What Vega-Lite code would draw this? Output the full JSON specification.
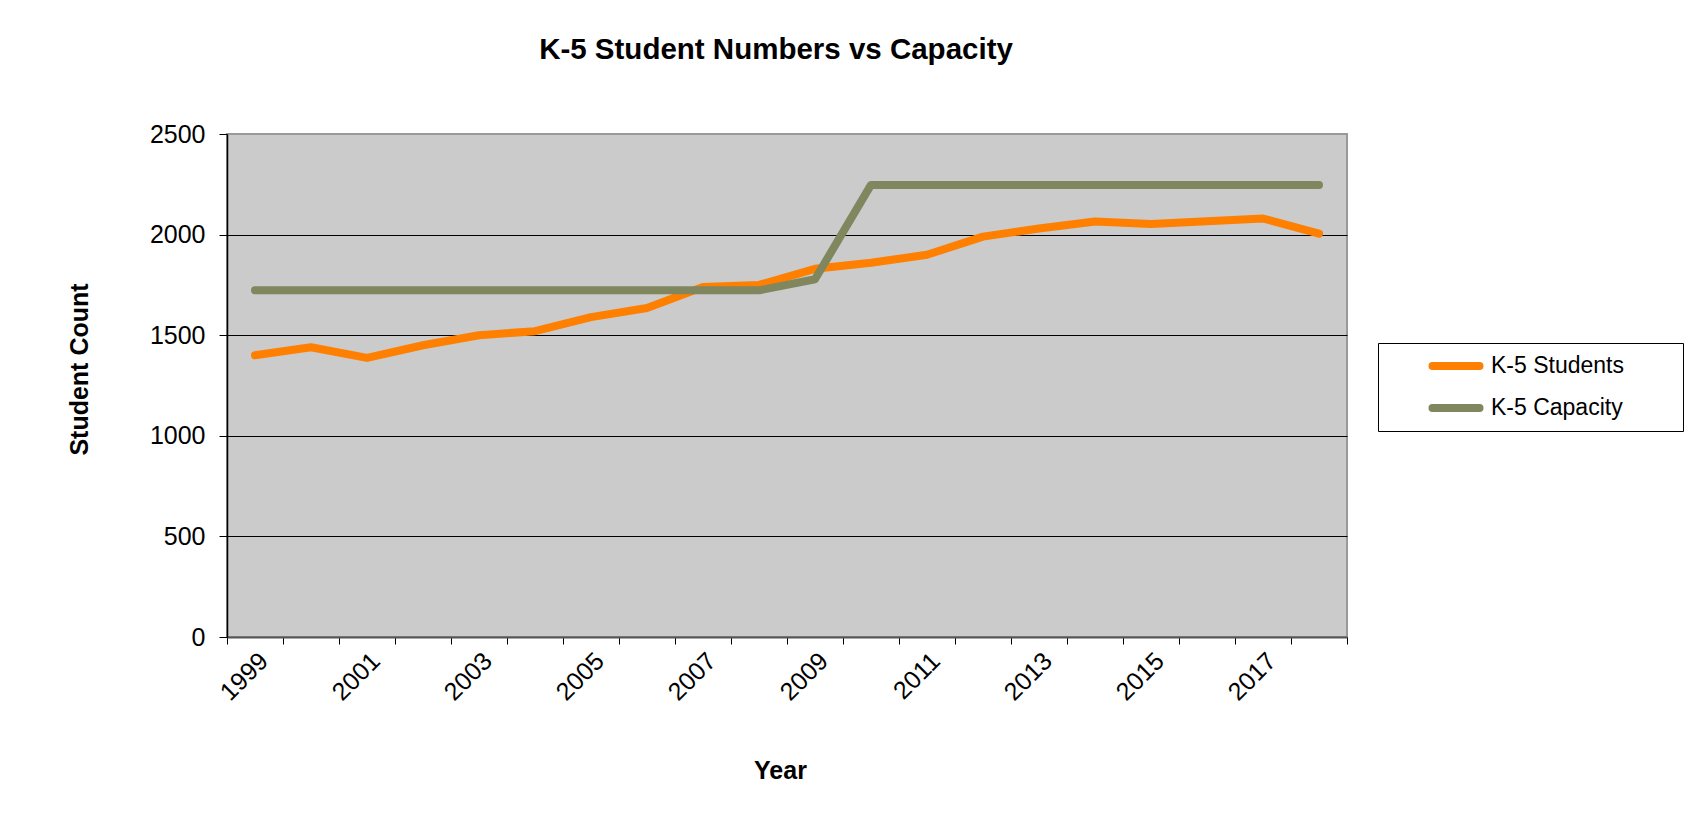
{
  "$schema": "https://vega.github.io/schema/vega-lite/v6.json",
  "width": 1120,
  "height": 503,
  "autosize": {"type": "none"},
  "padding": {"left": 227, "top": 134, "right": 354, "bottom": 197},
  "background": "white",
  "config": {
    "font": "Liberation Sans",
    "view": {"fill": "#cbcbcb", "stroke": "#999999", "strokeWidth": 2}
  },
  "title": {
    "text": "K-5 Student Numbers vs Capacity",
    "fontSize": 29.5,
    "fontWeight": "bold",
    "color": "black",
    "anchor": "middle",
    "frame": "group",
    "baseline": "alphabetic",
    "dx": -11,
    "offset": 34
  },
  "data": {
    "values": [
      {"year": 1999, "series": "K-5 Students", "value": 1400},
      {"year": 2000, "series": "K-5 Students", "value": 1440},
      {"year": 2001, "series": "K-5 Students", "value": 1387},
      {"year": 2002, "series": "K-5 Students", "value": 1450},
      {"year": 2003, "series": "K-5 Students", "value": 1500},
      {"year": 2004, "series": "K-5 Students", "value": 1520},
      {"year": 2005, "series": "K-5 Students", "value": 1590},
      {"year": 2006, "series": "K-5 Students", "value": 1635},
      {"year": 2007, "series": "K-5 Students", "value": 1740},
      {"year": 2008, "series": "K-5 Students", "value": 1750},
      {"year": 2009, "series": "K-5 Students", "value": 1830},
      {"year": 2010, "series": "K-5 Students", "value": 1860},
      {"year": 2011, "series": "K-5 Students", "value": 1900},
      {"year": 2012, "series": "K-5 Students", "value": 1990},
      {"year": 2013, "series": "K-5 Students", "value": 2030},
      {"year": 2014, "series": "K-5 Students", "value": 2065},
      {"year": 2015, "series": "K-5 Students", "value": 2053},
      {"year": 2016, "series": "K-5 Students", "value": 2066},
      {"year": 2017, "series": "K-5 Students", "value": 2080},
      {"year": 2018, "series": "K-5 Students", "value": 2005},
      {"year": 1999, "series": "K-5 Capacity", "value": 1723},
      {"year": 2000, "series": "K-5 Capacity", "value": 1723},
      {"year": 2001, "series": "K-5 Capacity", "value": 1723},
      {"year": 2002, "series": "K-5 Capacity", "value": 1723},
      {"year": 2003, "series": "K-5 Capacity", "value": 1723},
      {"year": 2004, "series": "K-5 Capacity", "value": 1723},
      {"year": 2005, "series": "K-5 Capacity", "value": 1723},
      {"year": 2006, "series": "K-5 Capacity", "value": 1723},
      {"year": 2007, "series": "K-5 Capacity", "value": 1723},
      {"year": 2008, "series": "K-5 Capacity", "value": 1723},
      {"year": 2009, "series": "K-5 Capacity", "value": 1778},
      {"year": 2010, "series": "K-5 Capacity", "value": 2247},
      {"year": 2011, "series": "K-5 Capacity", "value": 2247},
      {"year": 2012, "series": "K-5 Capacity", "value": 2247},
      {"year": 2013, "series": "K-5 Capacity", "value": 2247},
      {"year": 2014, "series": "K-5 Capacity", "value": 2247},
      {"year": 2015, "series": "K-5 Capacity", "value": 2247},
      {"year": 2016, "series": "K-5 Capacity", "value": 2247},
      {"year": 2017, "series": "K-5 Capacity", "value": 2247},
      {"year": 2018, "series": "K-5 Capacity", "value": 2247}
    ]
  },
  "encoding": {
    "x": {
      "field": "year",
      "type": "ordinal",
      "scale": {"type": "band", "paddingInner": 0, "paddingOuter": 0},
      "axis": {
        "title": "Year",
        "tickBand": "extent",
        "labelAngle": -45,
        "labelOverlap": false,
        "labelExpr": "datum.value % 2 == 1 ? datum.label : ''",
        "labelFontSize": 25,
        "labelColor": "black",
        "labelPadding": 4,
        "tickColor": "black",
        "tickSize": 7,
        "domainColor": "#555555",
        "domainWidth": 2,
        "grid": false,
        "titleFontSize": 25,
        "titleFontWeight": "bold",
        "titleColor": "black",
        "titleX": 553,
        "titleY": 141,
        "titleBaseline": "alphabetic"
      }
    },
    "y": {
      "field": "value",
      "type": "quantitative",
      "scale": {"domain": [0, 2500], "nice": false},
      "axis": {
        "title": "Student Count",
        "values": [0, 500, 1000, 1500, 2000, 2500],
        "format": "d",
        "labelFontSize": 25,
        "labelColor": "black",
        "labelPadding": 14,
        "tickColor": "black",
        "tickSize": 8,
        "domainColor": "black",
        "domainWidth": 1.5,
        "grid": true,
        "gridColor": {"condition": {"test": "datum.value == 2500", "value": "#999999"}, "value": "black"},
        "gridWidth": 1,
        "gridOpacity": 1,
        "titleFontSize": 25,
        "titleFontWeight": "bold",
        "titleColor": "black",
        "titleX": -140,
        "titleY": 235,
        "titleBaseline": "alphabetic"
      }
    },
    "color": {
      "field": "series",
      "type": "nominal",
      "scale": {"domain": ["K-5 Students", "K-5 Capacity"], "range": ["#ff7f00", "#80875f"]},
      "legend": {
        "title": null,
        "orient": "none",
        "legendX": 1151,
        "legendY": 209,
        "strokeColor": "black",
        "fillColor": "white",
        "padding": 7,
        "symbolType": "M-2,0H2",
        "symbolSize": 552,
        "symbolStrokeWidth": 8,
        "symbolOffset": 55,
        "labelFontSize": 23,
        "labelColor": "black",
        "labelOffset": 19,
        "labelLimit": 400,
        "rowPadding": 10,
        "labelExpr": "datum.label + '\u00a0\u00a0\u00a0\u00a0\u00a0\u00a0\u00a0\u00a0\u200b'",
        "encode": {"symbols": {"update": {"strokeCap": {"value": "round"}}}}
      }
    }
  },
  "layer": [
    {
      "transform": [{"filter": "datum.series == 'K-5 Students'"}],
      "mark": {"type": "line", "strokeWidth": 8, "strokeCap": "round", "strokeJoin": "round"}
    },
    {
      "transform": [{"filter": "datum.series == 'K-5 Capacity'"}],
      "mark": {"type": "line", "strokeWidth": 8, "strokeCap": "round", "strokeJoin": "round"}
    }
  ]
}
